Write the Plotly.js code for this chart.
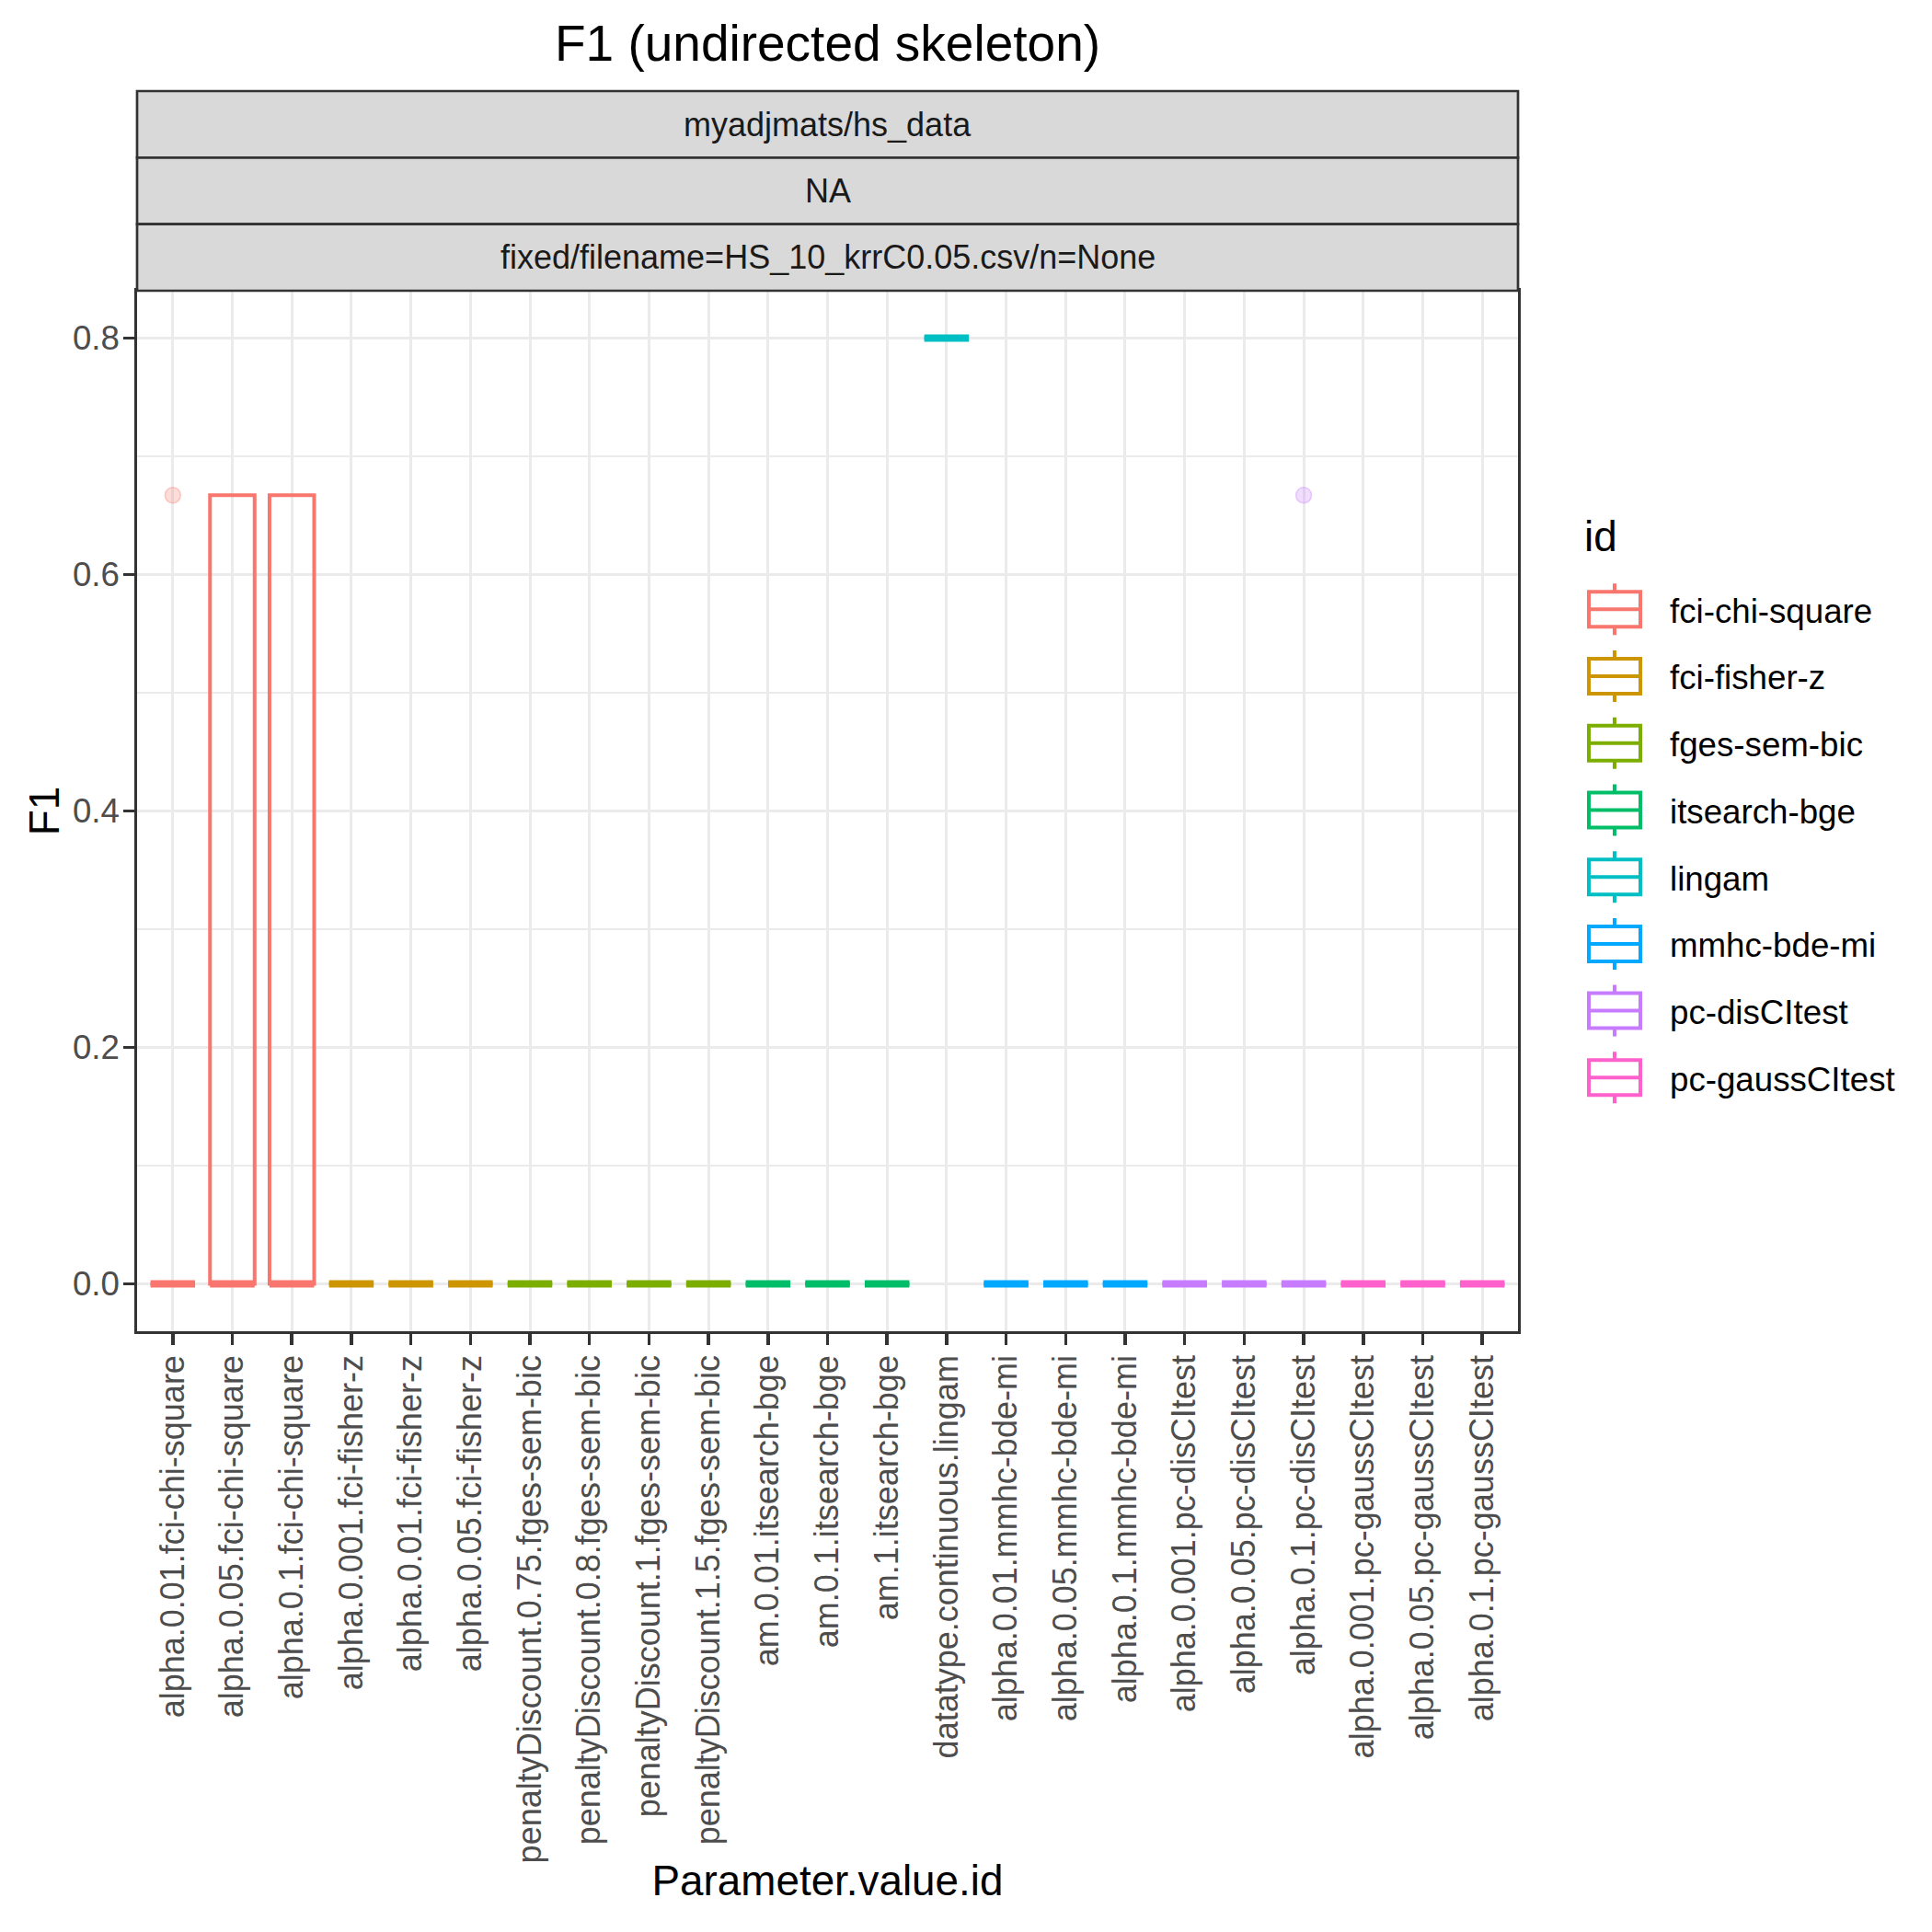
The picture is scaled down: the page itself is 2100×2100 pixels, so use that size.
<!DOCTYPE html>
<html>
<head>
<meta charset="utf-8">
<script src="https://cdn.plot.ly/plotly-3.0.1.min.js"></script>
<style>html,body{margin:0;padding:0;background:#ffffff;}</style>
</head>
<body>
<div id="chart" style="width:2100px;height:2100px;"></div>
<script>
// ---------------- data ----------------
const categories = [
  "alpha.0.01.fci-chi-square", "alpha.0.05.fci-chi-square", "alpha.0.1.fci-chi-square",
  "alpha.0.001.fci-fisher-z", "alpha.0.01.fci-fisher-z", "alpha.0.05.fci-fisher-z",
  "penaltyDiscount.0.75.fges-sem-bic", "penaltyDiscount.0.8.fges-sem-bic",
  "penaltyDiscount.1.fges-sem-bic", "penaltyDiscount.1.5.fges-sem-bic",
  "am.0.01.itsearch-bge", "am.0.1.itsearch-bge", "am.1.itsearch-bge",
  "datatype.continuous.lingam",
  "alpha.0.01.mmhc-bde-mi", "alpha.0.05.mmhc-bde-mi", "alpha.0.1.mmhc-bde-mi",
  "alpha.0.001.pc-disCItest", "alpha.0.05.pc-disCItest", "alpha.0.1.pc-disCItest",
  "alpha.0.001.pc-gaussCItest", "alpha.0.05.pc-gaussCItest", "alpha.0.1.pc-gaussCItest"
];
const ids = ["fci-chi-square", "fci-fisher-z", "fges-sem-bic", "itsearch-bge",
             "lingam", "mmhc-bde-mi", "pc-disCItest", "pc-gaussCItest"];
const idColors = ["#F8766D", "#CD9600", "#7CAE00", "#00BE67",
                  "#00BFC4", "#00A9FF", "#C77CFF", "#FF61CC"];

// parameter settings of each id (x categories)
const cats_fci_chi_square = ["alpha.0.01.fci-chi-square", "alpha.0.05.fci-chi-square", "alpha.0.1.fci-chi-square"];
const cats_fci_fisher_z = ["alpha.0.001.fci-fisher-z", "alpha.0.01.fci-fisher-z", "alpha.0.05.fci-fisher-z"];
const cats_fges_sem_bic = ["penaltyDiscount.0.75.fges-sem-bic", "penaltyDiscount.0.8.fges-sem-bic",
                           "penaltyDiscount.1.fges-sem-bic", "penaltyDiscount.1.5.fges-sem-bic"];
const cats_itsearch_bge = ["am.0.01.itsearch-bge", "am.0.1.itsearch-bge", "am.1.itsearch-bge"];
const cats_lingam = ["datatype.continuous.lingam"];
const cats_mmhc_bde_mi = ["alpha.0.01.mmhc-bde-mi", "alpha.0.05.mmhc-bde-mi", "alpha.0.1.mmhc-bde-mi"];
const cats_pc_disCItest = ["alpha.0.001.pc-disCItest", "alpha.0.05.pc-disCItest", "alpha.0.1.pc-disCItest"];
const cats_pc_gaussCItest = ["alpha.0.001.pc-gaussCItest", "alpha.0.05.pc-gaussCItest", "alpha.0.1.pc-gaussCItest"];

// F1 values of the runs for each setting
const f1_fci_chi_square = [[0, 0, 0, 0, 0.667], [0, 0, 0, 0.667, 0.667], [0, 0, 0, 0.667, 0.667]];
const f1_fci_fisher_z = [[0, 0, 0, 0, 0], [0, 0, 0, 0, 0], [0, 0, 0, 0, 0]];
const f1_fges_sem_bic = [[0, 0, 0, 0, 0], [0, 0, 0, 0, 0], [0, 0, 0, 0, 0], [0, 0, 0, 0, 0]];
const f1_itsearch_bge = [[0, 0, 0, 0, 0], [0, 0, 0, 0, 0], [0, 0, 0, 0, 0]];
const f1_lingam = [[0.8, 0.8, 0.8, 0.8, 0.8]];
const f1_mmhc_bde_mi = [[0, 0, 0, 0, 0], [0, 0, 0, 0, 0], [0, 0, 0, 0, 0]];
const f1_pc_disCItest = [[0, 0, 0, 0, 0], [0, 0, 0, 0, 0], [0, 0, 0, 0, 0.667]];
const f1_pc_gaussCItest = [[0, 0, 0, 0, 0], [0, 0, 0, 0, 0], [0, 0, 0, 0, 0]];

const yTickVals = [0, 0.2, 0.4, 0.6, 0.8];
const yTickText = ["0.0", "0.2", "0.4", "0.6", "0.8"];

const stripLabels = ["myadjmats/hs_data", "NA", "fixed/filename=HS_10_krrC0.05.csv/n=None"];

// ---------------- build ----------------
const catsById = [cats_fci_chi_square, cats_fci_fisher_z, cats_fges_sem_bic, cats_itsearch_bge,
                  cats_lingam, cats_mmhc_bde_mi, cats_pc_disCItest, cats_pc_gaussCItest];
const valsById = [f1_fci_chi_square, f1_fci_fisher_z, f1_fges_sem_bic, f1_itsearch_bge,
                  f1_lingam, f1_mmhc_bde_mi, f1_pc_disCItest, f1_pc_gaussCItest];

function hexToRgba(h, a) {
  const r = parseInt(h.slice(1, 3), 16), g = parseInt(h.slice(3, 5), 16), b = parseInt(h.slice(5, 7), 16);
  return `rgba(${r},${g},${b},${a})`;
}
function median(arr) {
  const s = arr.slice().sort((a, b) => a - b);
  const m = Math.floor(s.length / 2);
  return s.length % 2 ? s[m] : (s[m - 1] + s[m]) / 2;
}

const FONT = "Liberation Sans, Arial, Helvetica, sans-serif";
const BOXW = 0.75;
const traces = [];
const medianTraces = [];
ids.forEach((id, k) => {
  const xs = [], ys = [];
  catsById[k].forEach((c, j) => {
    valsById[k][j].forEach(v => { xs.push(c); ys.push(v); });
  });
  traces.push({
    type: "box", name: id, x: xs, y: ys,
    legendgroup: id,
    width: BOXW,
    quartilemethod: "inclusive",
    boxpoints: "outliers",
    whiskerwidth: 0,
    line: { color: idColors[k], width: 4 },
    fillcolor: "rgba(0,0,0,0)",
    marker: { color: hexToRgba(idColors[k], 0.25), size: 17,
              line: { color: hexToRgba(idColors[k], 0.35), width: 1.5 } },
    hoverinfo: "skip"
  });
  medianTraces.push({
    type: "scatter", mode: "markers", showlegend: false, legendgroup: id,
    x: catsById[k], y: valsById[k].map(median),
    marker: { symbol: "line-ew", size: 34.6, color: idColors[k],
              line: { color: idColors[k], width: 8 } },
    hoverinfo: "skip"
  });
});

// layout geometry
const W = 2100, H = 2100;
const panelL = 149, panelR = 1650, panelT = 316, panelB = 1447;
const stripTop = 99;
const pw = panelR - panelL;
const ph = panelB - panelT;
const stripH = (panelT - stripTop) / stripLabels.length;

const shapes = [], annotations = [];
stripLabels.forEach((lab, i) => {
  const topPx = stripTop + i * stripH, botPx = topPx + stripH;
  const y1 = (panelB - topPx) / ph, y0 = (panelB - botPx) / ph;
  shapes.push({ type: "rect", xref: "paper", yref: "paper", x0: 0, x1: 1, y0: y0, y1: y1,
                fillcolor: "#D9D9D9", line: { color: "#333333", width: 2.7 }, layer: "above" });
  annotations.push({ xref: "paper", yref: "paper", x: 0.5, y: (y0 + y1) / 2, text: lab,
                     showarrow: false, xanchor: "center", yanchor: "middle",
                     font: { family: FONT, size: 36, color: "#1A1A1A" } });
});
// legend title
annotations.push({ xref: "paper", yref: "paper", x: (1720 - panelL) / pw, y: (panelB - 583) / ph,
                   text: "id", showarrow: false, xanchor: "left", yanchor: "middle",
                   font: { family: FONT, size: 45.8, color: "#000000" } });

const layout = {
  width: W, height: H,
  margin: { l: panelL, r: W - panelR, t: panelT, b: H - panelB, pad: 0 },
  paper_bgcolor: "#ffffff", plot_bgcolor: "#ffffff",
  font: { family: FONT, color: "#000000" },
  title: { text: "F1 (undirected skeleton)", x: 0.5, xref: "paper", xanchor: "center",
           y: 1 - 47 / H, yref: "container", yanchor: "middle",
           font: { family: FONT, size: 55, color: "#000000" } },
  boxmode: "overlay",
  showlegend: true,
  legend: { x: (1695 - panelL) / pw, xanchor: "left", y: (panelB - 632) / ph, yanchor: "top",
            font: { family: FONT, size: 36.7, color: "#000000" },
            tracegroupgap: 22, itemwidth: 110, bgcolor: "rgba(0,0,0,0)" },
  xaxis: {
    type: "category", categoryorder: "array", categoryarray: categories,
    range: [-0.6, categories.length - 0.4],
    showgrid: true, gridcolor: "#EBEBEB", gridwidth: 3,
    ticks: "outside", ticklen: 12, tickwidth: 3.5, tickcolor: "#333333",
    ticklabelstandoff: -3,
    tickangle: -90, tickfont: { family: FONT, size: 36, color: "#4D4D4D" },
    showline: true, mirror: true, linecolor: "#333333", linewidth: 2.7,
    zeroline: false, automargin: false,
    title: { text: "Parameter.value.id", standoff: 4,
             font: { family: FONT, size: 45.8, color: "#000000" } }
  },
  yaxis: {
    range: [-0.04, 0.84],
    tickmode: "array", tickvals: yTickVals, ticktext: yTickText,
    showgrid: true, gridcolor: "#EBEBEB", gridwidth: 3,
    minor: { dtick: 0.1, tick0: 0, showgrid: true, gridcolor: "#EBEBEB", gridwidth: 1.6, ticks: "" },
    ticks: "outside", ticklen: 12, tickwidth: 3.5, tickcolor: "#333333",
    ticklabelstandoff: -3,
    tickfont: { family: FONT, size: 36.7, color: "#4D4D4D" },
    showline: true, mirror: true, linecolor: "#333333", linewidth: 2.7,
    zeroline: false, automargin: false,
    title: { text: "F1", standoff: 0, font: { family: FONT, size: 45.8, color: "#000000" } }
  },
  shapes: shapes,
  annotations: annotations
};

Plotly.newPlot("chart", traces.concat(medianTraces), layout, { staticPlot: true, displayModeBar: false })
  .then(gd => {
    // draw the legend keys as small box-and-whisker glyphs, like the ggplot keys
    gd.querySelectorAll("path.legendbox").forEach(p => {
      p.setAttribute("d", "M-28,-19H28V19H-28Z M-28,0H28 M0,-19V-28 M0,19V28");
      p.style.strokeWidth = "4px";
    });
  });
</script>
</body>
</html>
